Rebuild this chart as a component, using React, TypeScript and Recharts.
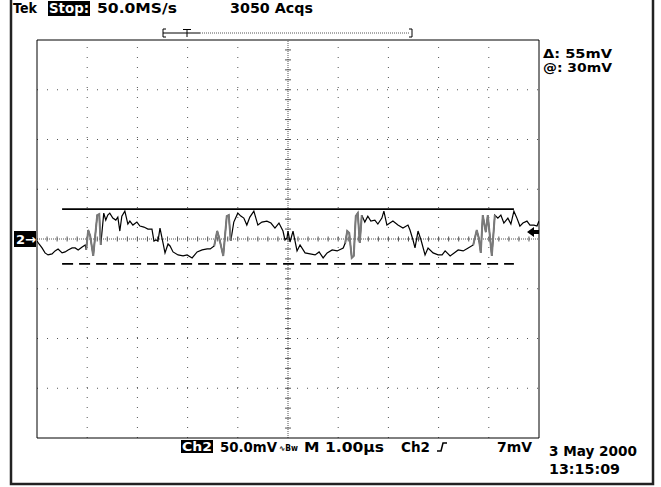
import React from 'react';
import { LineChart, Line, XAxis, YAxis, ReferenceLine, ReferenceDot } from 'recharts';

// Ch2 trace: time in µs (1 µs/div), level in mV (50 mV/div)
const TIME_US = [
  0, 0.04, 0.1, 0.16, 0.22, 0.3, 0.36, 0.42, 0.5, 0.56,
  0.62, 0.7, 0.76, 0.82, 0.9, 0.96, 0.98, 1.02, 1.06, 1.12,
  1.2, 1.24, 1.27, 1.33, 1.37, 1.41, 1.45, 1.51, 1.57, 1.61,
  1.65, 1.69, 1.75, 1.81, 1.85, 1.91, 1.99, 2.05, 2.13, 2.21,
  2.29, 2.33, 2.37, 2.41, 2.45, 2.51, 2.55, 2.61, 2.65, 2.71,
  2.81, 2.91, 2.99, 3.09, 3.19, 3.29, 3.39, 3.45, 3.53, 3.59,
  3.63, 3.71, 3.78, 3.82, 3.86, 3.92, 4.0, 4.06, 4.12, 4.18,
  4.24, 4.32, 4.4, 4.48, 4.58, 4.66, 4.74, 4.82, 4.9, 4.94,
  4.98, 5.0, 5.04, 5.1, 5.18, 5.24, 5.34, 5.44, 5.54, 5.62,
  5.7, 5.78, 5.88, 5.98, 6.1, 6.14, 6.18, 6.22, 6.27, 6.31,
  6.35, 6.39, 6.43, 6.47, 6.53, 6.59, 6.65, 6.73, 6.79, 6.87,
  6.91, 6.97, 7.03, 7.09, 7.19, 7.29, 7.39, 7.43, 7.49, 7.53,
  7.59, 7.65, 7.73, 7.79, 7.89, 7.99, 8.07, 8.13, 8.23, 8.31,
  8.39, 8.49, 8.59, 8.69, 8.76, 8.8, 8.84, 8.88, 8.94, 8.98,
  9.06, 9.12, 9.18, 9.24, 9.3, 9.38, 9.44, 9.5, 9.56, 9.62,
  9.68, 9.76, 9.82, 9.9, 9.96, 10,
];

const CH2_MV = [
  -2, -5, -9, -14, -16, -15, -12, -10, -14, -13,
  -11, -9, -9, -11, -8, -6, -11, 9, 3, -17,
  24, 25, -6, 26, 19, 24, 26, 21, 19, 22,
  8, 23, 28, 15, 18, 14, 17, 13, 12, 10,
  10, -2, -1, -2, 11, -4, -14, -5, -7, -13,
  -16, -17, -16, -19, -13, -11, -10, -10, -7, 8,
  1, -17, 23, 24, -2, 17, 26, 23, 21, 14,
  22, 28, 14, 17, 18, 16, 11, 16, 8, -1,
  1, 8, -3, 8, -12, -6, -14, -15, -16, -13,
  -19, -14, -11, -12, -9, -4, 8, 6, -19, -17,
  23, 26, -4, 24, 17, 23, 18, 19, 15, 21,
  28, 14, 16, 18, 14, 11, 14, 9, -1, -9,
  8, -1, -16, -9, -14, -16, -16, -12, -17, -14,
  -11, -12, -9, -6, 9, 1, -14, 24, 7, 24,
  -17, 24, 21, 24, 16, 21, 15, 28, 21, 13,
  16, 18, 14, 14, 13, 18,
];

// ringing bursts drawn greyer (persistence)
const BURSTS_US = [[0.98, 1.27], [3.53, 3.86], [6.14, 6.47], [8.69, 9.12]];

const MAJOR_T = [1, 2, 3, 4, 6, 7, 8, 9];
const MAJOR_MV = [-150, -100, -50, 50, 100, 150];
const MINOR_T = Array.from({ length: 51 }, (_, i) => +(i * 0.2).toFixed(1));
const MINOR_MV = Array.from({ length: 41 }, (_, i) => -200 + i * 10);

const CURSOR_MV = 30;
const DELTA_MV = 55;
const CURSOR_SPAN_US = [0.5, 9.5];
const TRIGGER_MV = 7;

const data = TIME_US.map((t, i) => ({
  t,
  v: CH2_MV[i],
  burst: BURSTS_US.some(([a, b]) => t >= a && t <= b) ? CH2_MV[i] : null,
}));

const FONT = '"DejaVu Sans", Verdana, sans-serif';

const Txt = ({ x, y, w, size = 14, fill = '#000', children }: any) => (
  <text
    x={x}
    y={y}
    fontSize={size}
    fontWeight="bold"
    fontFamily={FONT}
    fill={fill}
    textLength={w}
    lengthAdjust="spacingAndGlyphs"
  >
    {children}
  </text>
);

const GroundMark = ({ cx, cy }: any) => (
  <g>
    <rect x={cx - 23} y={cy - 8} width={22} height={16} fill="#000" />
    <text x={cx - 21} y={cy + 5} fontSize={13} fontWeight="bold" fontFamily={FONT} fill="#fff">
      2→
    </text>
  </g>
);

const TriggerMark = ({ cx, cy }: any) => (
  <polygon
    points={`${cx - 12},${cy} ${cx - 5},${cy - 5} ${cx - 5},${cy - 2} ${cx},${cy - 2} ${cx},${cy + 2} ${cx - 5},${cy + 2} ${cx - 5},${cy + 5}`}
    fill="#000"
  />
);

const App = () => {
  const ax = { xAxisId: 'b', yAxisId: 'l' };
  return (
    <div style={{ position: 'absolute', left: 0, top: 0, width: 661, height: 487, background: '#fff' }}>
      <LineChart width={661} height={487} data={data} margin={{ top: 40, right: 122, bottom: 49, left: 37 }}>
        <XAxis xAxisId="b" dataKey="t" type="number" domain={[0, 10]} ticks={MINOR_T} orientation="bottom"
          mirror tickSize={3} tick={false} axisLine={{ stroke: '#000' }} tickLine={{ stroke: '#555' }} allowDataOverflow />
        <XAxis xAxisId="t" dataKey="t" type="number" domain={[0, 10]} ticks={MINOR_T} orientation="top"
          mirror tickSize={3} tick={false} axisLine={{ stroke: '#000' }} tickLine={{ stroke: '#555' }} allowDataOverflow />
        <YAxis yAxisId="l" type="number" domain={[-200, 200]} ticks={MINOR_MV} orientation="left"
          mirror tickSize={3} tick={false} axisLine={{ stroke: '#000' }} tickLine={{ stroke: '#555' }} allowDataOverflow />
        <YAxis yAxisId="r" type="number" domain={[-200, 200]} ticks={MINOR_MV} orientation="right"
          mirror tickSize={3} tick={false} axisLine={{ stroke: '#000' }} tickLine={{ stroke: '#555' }} allowDataOverflow />

        {MAJOR_T.map((t) => (
          <ReferenceLine key={`gx${t}`} {...ax} x={t} stroke="#555" strokeDasharray="1 9" />
        ))}
        {MAJOR_MV.map((m) => (
          <ReferenceLine key={`gy${m}`} {...ax} y={m} stroke="#555" strokeDasharray="1 9" />
        ))}
        <ReferenceLine {...ax} x={5} stroke="#555" strokeDasharray="1 1" />
        <ReferenceLine {...ax} y={0} stroke="#555" strokeDasharray="1 1" />
        {MINOR_T.slice(1, -1).map((t) => (
          <ReferenceLine key={`cx${t}`} {...ax} segment={[{ x: t, y: -2.5 }, { x: t, y: 2.5 }]} stroke="#555" />
        ))}
        {MINOR_MV.slice(1, -1).map((m) => (
          <ReferenceLine key={`cy${m}`} {...ax} segment={[{ x: 4.94, y: m }, { x: 5.06, y: m }]} stroke="#555" />
        ))}

        <ReferenceLine {...ax}
          segment={[{ x: CURSOR_SPAN_US[0], y: CURSOR_MV }, { x: CURSOR_SPAN_US[1], y: CURSOR_MV }]}
          stroke="#000" strokeWidth={1.6} />
        <ReferenceLine {...ax}
          segment={[{ x: CURSOR_SPAN_US[0], y: CURSOR_MV - DELTA_MV }, { x: CURSOR_SPAN_US[1], y: CURSOR_MV - DELTA_MV }]}
          stroke="#000" strokeWidth={1.6} strokeDasharray="11 6" />

        <Line {...ax} dataKey="v" stroke="#000" strokeWidth={1.2} dot={false} isAnimationActive={false} />
        <Line {...ax} dataKey="burst" stroke="#7a7a7a" strokeWidth={2} dot={false} isAnimationActive={false} />

        <ReferenceDot {...ax} x={0} y={0} r={0} ifOverflow="visible" shape={(p: any) => <GroundMark {...p} />} />
        <ReferenceDot {...ax} x={10} y={TRIGGER_MV} r={0} ifOverflow="visible" shape={(p: any) => <TriggerMark {...p} />} />
      </LineChart>

      <svg width={661} height={487} style={{ position: 'absolute', left: 0, top: 0, pointerEvents: 'none' }}>
        <rect x={11} y={-10} width={642} height={494} fill="none" stroke="#222" strokeWidth={2.5} />

        <Txt x={13} y={13} w={24}>Tek</Txt>
        <rect x={48} y={1} width={42} height={15} fill="#000" />
        <Txt x={49} y={13} w={40} fill="#fff">Stop:</Txt>
        <Txt x={97} y={13} w={80}>50.0MS/s</Txt>
        <Txt x={230} y={13} w={83}>3050 Acqs</Txt>

        <path d="M166 29 H163 V37 H166 M163 33 H200 M183 29.5 H191 M187 29.5 V37 M409 29 H412 V37 H409"
          stroke="#000" strokeWidth={1} fill="none" />
        <path d="M200 33 H409" stroke="#555" strokeWidth={1} strokeDasharray="1 1" />

        <Txt x={543} y={58} w={69} size={12}>Δ: 55mV</Txt>
        <Txt x={543} y={72} w={69} size={12}>@: 30mV</Txt>

        <rect x={181} y={440} width={32} height={13} fill="#000" />
        <Txt x={182} y={451} w={30} size={13} fill="#fff">Ch2</Txt>
        <Txt x={220} y={452} w={57} size={14}>50.0mV</Txt>
        <Txt x={279} y={451} w={19} size={8}>∿Bw</Txt>
        <Txt x={304} y={452} w={80} size={14}>M 1.00µs</Txt>
        <Txt x={401} y={452} w={29} size={14}>Ch2</Txt>
        <path d="M437 451 H441 L443 443 H447" stroke="#000" strokeWidth={1.5} fill="none" />
        <Txt x={497} y={452} w={35} size={14}>7mV</Txt>
        <Txt x={549} y={456} w={88} size={14}>3 May 2000</Txt>
        <Txt x={549} y={474} w={71} size={14}>13:15:09</Txt>
      </svg>
    </div>
  );
};

export default App;
